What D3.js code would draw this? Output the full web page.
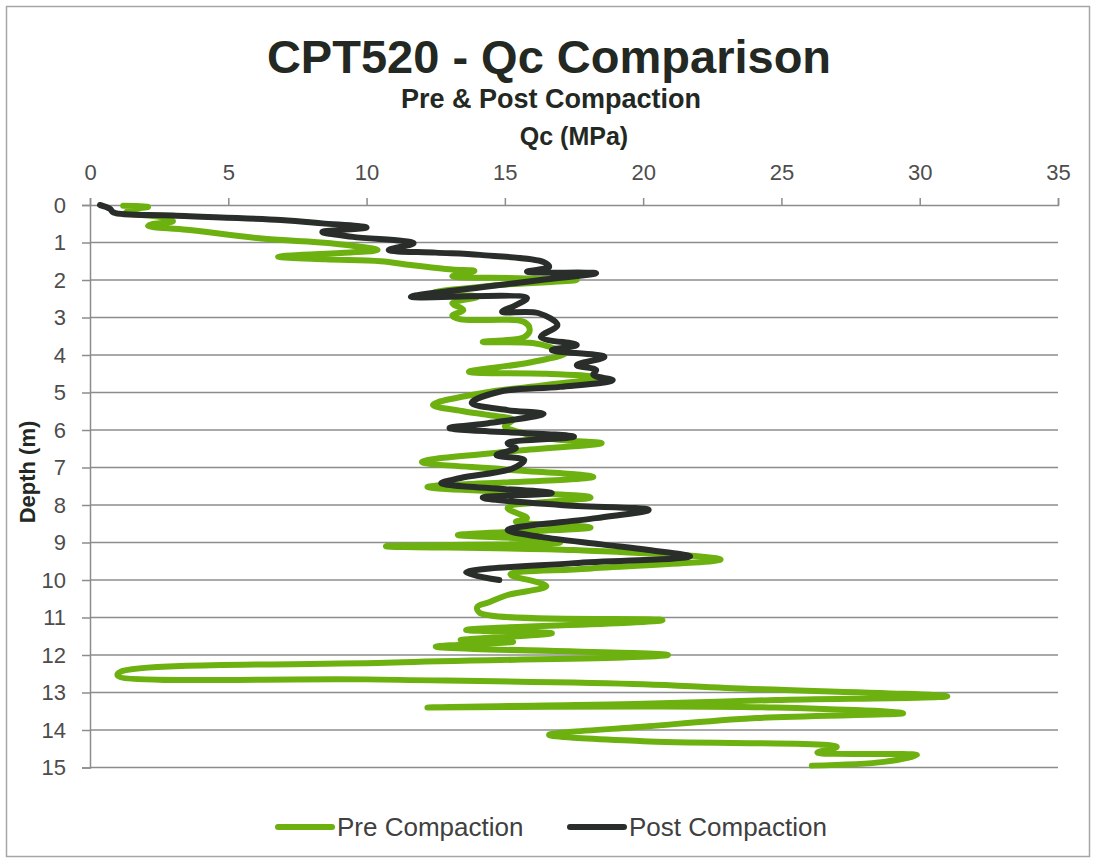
<!DOCTYPE html>
<html>
<head>
<meta charset="utf-8">
<script src="https://cdn.jsdelivr.net/npm/d3@7"></script>
<style>
  body { margin: 0; background: #fff; }
  svg { display: block; font-family: "Liberation Sans", Arial, sans-serif; }
</style>
</head>
<body>
<div id="chart"></div>
<script>
// Tick labels
const qcTicks = [0, 5, 10, 15, 20, 25, 30, 35];
const depthTicks = [0, 1, 2, 3, 4, 5, 6, 7, 8, 9, 10, 11, 12, 13, 14, 15];

// Pre compaction trace (Qc in MPa, depth in m)
const preQc = [1.2, 2.1, 1.5, 1.3, 2.6, 3.0, 2.2, 2.1, 3.5, 6.3, 8.7, 10.4, 9.5, 6.8, 8.5, 10.5,
  11.6, 13.1, 13.9, 13.1, 15.5, 17.6, 14.5, 12.4, 14.0, 13.1, 13.5, 13.1, 13.4, 15.7, 15.9, 15.7,
  14.2, 16.0, 16.7, 17.2, 15.9, 13.7, 16.5, 18.4, 16.5, 14.3, 12.4, 13.5, 14.4, 15.3, 15.0, 15.5,
  16.8, 18.5, 15.5, 12.0, 15.0, 18.2, 12.2, 15.0, 18.1, 15.1, 15.8, 15.4, 18.1, 13.3, 15.8, 17.0,
  10.7, 17.5, 22.8, 18.0, 15.2, 16.5, 15.1, 14.4, 14.0, 14.1, 20.7, 13.6, 16.7, 13.4, 15.3, 12.5,
  20.9, 11.0, 1.1, 1.0, 10.0, 20.0, 23.0, 31.0, 24.8, 20.0, 12.2, 20.0, 24.8, 29.4, 24.1, 20.2,
  16.6, 20.0, 27.0, 26.3, 29.9, 28.7, 26.1];
const preDepth = [0.02, 0.05, 0.12, 0.2, 0.33, 0.43, 0.52, 0.56, 0.66, 0.9, 1.02, 1.2, 1.26, 1.38, 1.45, 1.5,
  1.6, 1.72, 1.76, 1.9, 1.95, 2.0, 2.15, 2.35, 2.45, 2.62, 2.8, 2.95, 3.05, 3.12, 3.33, 3.52,
  3.65, 3.68, 3.8, 3.95, 4.2, 4.45, 4.5, 4.6, 4.8, 5.0, 5.33, 5.5, 5.6, 5.73, 5.9, 6.05,
  6.25, 6.35, 6.55, 6.85, 7.05, 7.25, 7.52, 7.65, 7.8, 8.08, 8.35, 8.45, 8.6, 8.8, 8.9, 9.0,
  9.1, 9.2, 9.45, 9.7, 9.85, 10.16, 10.4, 10.6, 10.72, 10.88, 11.07, 11.33, 11.42, 11.6, 11.65, 11.78,
  12.0, 12.2, 12.45, 12.55, 12.65, 12.78, 12.88, 13.1, 13.2, 13.3, 13.4, 13.37, 13.4, 13.55, 13.68, 13.9,
  14.13, 14.3, 14.45, 14.6, 14.67, 14.85, 14.95];

// Post compaction trace
const postQc = [0.36, 0.72, 0.85, 3.0, 6.9, 8.4, 10.0, 8.4, 9.5, 11.7, 10.8, 12.5, 14.1, 16.4, 16.6,
  15.8, 18.3, 16.3, 14.3, 11.6, 15.8, 15.4, 14.9, 16.2, 16.9, 16.3, 17.6, 16.7, 18.6, 17.6, 18.3,
  18.2, 18.9, 17.0, 14.8, 13.8, 15.1, 16.4, 14.4, 13.0, 17.5, 15.1, 15.4, 14.7, 15.7, 15.3, 13.4,
  12.7, 16.7, 14.2, 17.0, 20.2, 18.3, 15.1, 16.3, 18.5, 20.2, 21.7, 17.5, 13.6, 14.8];
const postDepth = [0.0, 0.1, 0.2, 0.28, 0.4, 0.49, 0.6, 0.72, 0.85, 1.02, 1.2, 1.27, 1.33, 1.52, 1.65,
  1.78, 1.82, 2.0, 2.18, 2.45, 2.48, 2.67, 2.85, 2.88, 3.2, 3.52, 3.73, 3.87, 4.05, 4.27, 4.4,
  4.53, 4.67, 4.85, 4.98, 5.28, 5.47, 5.57, 5.82, 5.95, 6.18, 6.35, 6.48, 6.67, 6.8, 7.02, 7.28,
  7.42, 7.68, 7.8, 8.0, 8.13, 8.35, 8.67, 8.85, 9.05, 9.2, 9.37, 9.55, 9.8, 10.0];

const width = 1096, height = 862;
const plot = { left: 90, right: 1058, top: 205, bottom: 767.5 };
const gridColor = '#8c8c8c';
const preColor = '#6cb10f';
const postColor = '#2a2e2a';

const svg = d3.select('#chart').append('svg')
  .attr('width', width)
  .attr('height', height);

// Outer frame
svg.append('rect')
  .attr('x', 6.5).attr('y', 6.5)
  .attr('width', 1083).attr('height', 850)
  .attr('fill', '#fff')
  .attr('stroke', '#a6a6a6')
  .attr('stroke-width', 1.5);

const x = d3.scaleLinear().domain([0, 35]).range([plot.left, plot.right]);
const y = d3.scaleLinear().domain([0, 15]).range([plot.top, plot.bottom]);

// Horizontal grid lines
svg.append('g')
  .selectAll('line')
  .data(depthTicks.slice(1))
  .enter()
  .append('line')
  .attr('x1', plot.left)
  .attr('x2', plot.right)
  .attr('y1', d => y(d))
  .attr('y2', d => y(d))
  .attr('stroke', gridColor)
  .attr('stroke-width', 1.5);

// Axes
const xAxis = svg.append('g')
  .attr('transform', `translate(0,${plot.top})`)
  .call(d3.axisTop(x).tickValues(qcTicks).tickSize(7).tickPadding(18));

const yAxis = svg.append('g')
  .attr('transform', `translate(${plot.left},0)`)
  .call(d3.axisLeft(y).tickValues(depthTicks).tickSize(8).tickPadding(16));

[xAxis, yAxis].forEach(a => {
  a.select('.domain').attr('stroke', gridColor).attr('stroke-width', 1.5);
  a.selectAll('.tick line').attr('stroke', gridColor).attr('stroke-width', 1.5);
  a.selectAll('.tick text')
    .attr('fill', '#4d4d4d')
    .style('font-size', '22px')
    .style('font-family', '"Liberation Sans", Arial, sans-serif');
});

// Smoothed lines, like the spreadsheet original
const line = d3.line()
  .x(d => x(d[0]))
  .y(d => y(d[1]))
  .curve(d3.curveCatmullRom.alpha(0.5));

const series = [
  { name: 'Pre Compaction', color: preColor, points: d3.zip(preQc, preDepth) },
  { name: 'Post Compaction', color: postColor, points: d3.zip(postQc, postDepth) }
];

svg.append('g')
  .selectAll('path')
  .data(series)
  .enter()
  .append('path')
  .attr('d', d => line(d.points))
  .attr('fill', 'none')
  .attr('stroke', d => d.color)
  .attr('stroke-width', 6)
  .attr('stroke-linejoin', 'round')
  .attr('stroke-linecap', 'round');

// Titles
svg.append('text')
  .attr('x', 549).attr('y', 73)
  .attr('text-anchor', 'middle')
  .attr('fill', '#232823')
  .style('font-size', '47px')
  .style('font-weight', 'bold')
  .text('CPT520 - Qc Comparison');

svg.append('text')
  .attr('x', 551).attr('y', 108)
  .attr('text-anchor', 'middle')
  .attr('fill', '#232823')
  .style('font-size', '27px')
  .style('font-weight', 'bold')
  .text('Pre & Post Compaction');

svg.append('text')
  .attr('x', (plot.left + plot.right) / 2).attr('y', 145)
  .attr('text-anchor', 'middle')
  .attr('fill', '#232823')
  .style('font-size', '25px')
  .style('font-weight', 'bold')
  .text('Qc (MPa)');

svg.append('text')
  .attr('transform', 'translate(35,472) rotate(-90)')
  .attr('text-anchor', 'middle')
  .attr('fill', '#232823')
  .style('font-size', '22px')
  .style('font-weight', 'bold')
  .text('Depth (m)');

// Legend
const legendX = [278, 570];
const legend = svg.append('g')
  .selectAll('g')
  .data(series)
  .enter()
  .append('g')
  .attr('transform', (d, i) => `translate(${legendX[i]},827)`);

legend.append('line')
  .attr('x1', 0).attr('x2', 54)
  .attr('stroke', d => d.color)
  .attr('stroke-width', 6)
  .attr('stroke-linecap', 'round');

legend.append('text')
  .attr('x', 59).attr('y', 9)
  .attr('fill', '#404040')
  .style('font-size', '26px')
  .text(d => d.name);
</script>
</body>
</html>
